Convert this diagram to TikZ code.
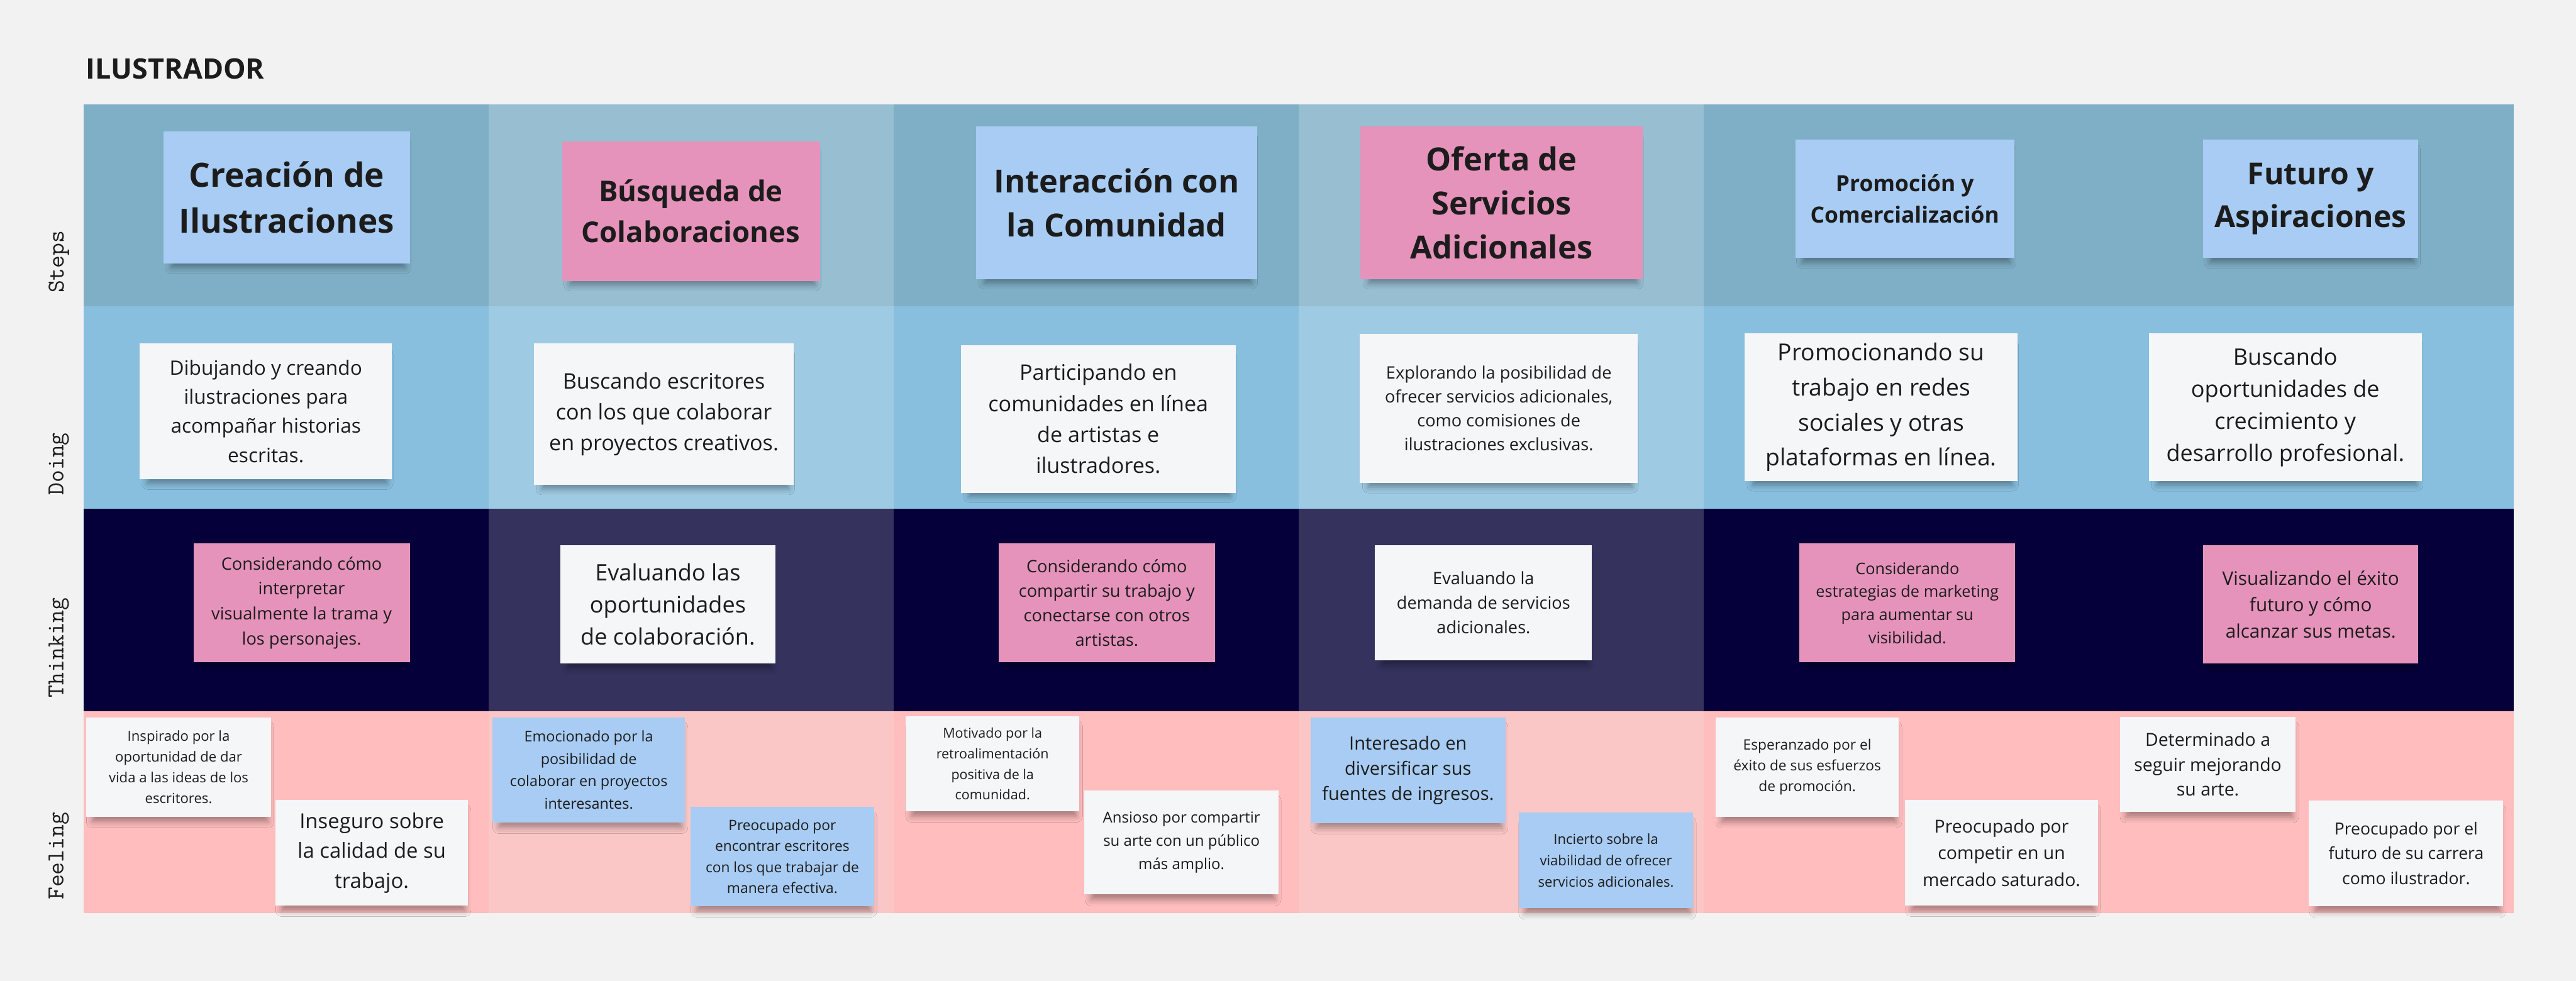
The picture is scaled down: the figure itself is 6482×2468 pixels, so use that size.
\documentclass[tikz,border=0pt]{standalone}
\usepackage{fontspec}
\setmainfont{Open Sans}
\usetikzlibrary{shadows.blur}
\definecolor{bg}{HTML}{F2F2F2}
\definecolor{stepsD}{HTML}{7FAFC6}
\definecolor{stepsL}{HTML}{97BED1}
\definecolor{doingD}{HTML}{89BFDE}
\definecolor{doingL}{HTML}{9FCAE3}
\definecolor{thinkD}{HTML}{05003A}
\definecolor{thinkL}{HTML}{35325E}
\definecolor{feelD}{HTML}{FFBDBE}
\definecolor{feelL}{HTML}{FBC6C6}
\definecolor{nblue}{HTML}{A8CCF3}
\definecolor{npink}{HTML}{E693BB}
\definecolor{nwhite}{HTML}{F5F6F8}
\definecolor{textc}{HTML}{1C1C1C}
\newcommand{\fsz}[2]{\pgfmathsetlengthmacro\fszA{#1*0.28453pt}\pgfmathsetlengthmacro\fszB{#2*0.28453pt}\fontsize{\fszA}{\fszB}\selectfont}
\newcommand{\sticky}[7]{%
  \node[notebox, #6, minimum width={(#4-#2)*0.01cm}, minimum height={(#5-#3)*0.01cm}] (#1) at ({(#2+#4)/2},{(#3+#5)/2}) {#7};}
\begin{document}
\begin{tikzpicture}[x=0.01cm,y=-0.01cm,
  notebox/.style={rectangle, inner sep=0pt, text=textc, align=center,
    blur shadow={shadow xshift=0.04cm, shadow yshift=-0.2cm, shadow scale=0.95, shadow opacity=35, shadow blur radius=0.16cm}},
  fs/.style 2 args={font={\fsz{#1}{#2}}},
  bfs/.style 2 args={font={\fsz{#1}{#2}\bfseries}},
  lbl/.style={rotate=90, anchor=west, inner sep=0pt, text=textc, font={\ttfamily\fsz{61}{70}}}]
\fill[bg] (0,0) rectangle (6482,2468);
\useasboundingbox (0,0) rectangle (6482,2468);
\foreach \xa/\xb/\s in {211/1229/D,1229/2248/L,2248/3268/D,3268/4287/L,4287/6326/D}{
  \fill[steps\s] (\xa,263) rectangle (\xb,771);
  \fill[doing\s] (\xa,771) rectangle (\xb,1280);
  \fill[think\s] (\xa,1280) rectangle (\xb,1789);
  \fill[feel\s] (\xa,1789) rectangle (\xb,2298);
}
\node[anchor=base west, inner sep=0pt, text=textc, font={\fsz{71}{90}\bfseries}] (title) at (216,199) {ILUSTRADOR};
\node[lbl] (lsteps) at (148,738) {Steps};
\node[lbl] (ldoing) at (148,1247) {Doing};
\node[lbl] (lthink) at (148,1756) {Thinking};
\node[lbl] (lfeel) at (148,2265) {Feeling};
% Steps
\sticky{s1}{412}{331}{1031}{663}{fill=nblue, bfs={84}{116}}{Creación de\\Ilustraciones}
\sticky{s2}{1414}{356}{2063}{707}{fill=npink, bfs={72}{103}}{Búsqueda de\\Colaboraciones}
\sticky{s3}{2456}{318}{3163}{703}{fill=nblue, bfs={80}{111}}{Interacción con\\la Comunidad}
\sticky{s4}{3423}{318}{4134}{703}{fill=npink, bfs={80}{111}}{Oferta de\\Servicios\\Adicionales}
\sticky{s5}{4518}{351}{5068}{649}{fill=nblue, bfs={56}{79}}{Promoción y\\Comercialización}
\sticky{s6}{5544}{351}{6085}{649}{fill=nblue, bfs={76}{107}}{Futuro y\\Aspiraciones}
% Doing
\sticky{d1}{352}{864}{986}{1206}{fill=nwhite, fs={50}{73}}{Dibujando y creando\\ilustraciones para\\acompañar historias\\escritas.}
\sticky{d2}{1344}{864}{1997}{1220}{fill=nwhite, fs={54}{78}}{Buscando escritores\\con los que colaborar\\en proyectos creativos.}
\sticky{d3}{2418}{868}{3109}{1240}{fill=nwhite, fs={54}{78}}{Participando en\\comunidades en línea\\de artistas e\\ilustradores.}
\sticky{d4}{3422}{840}{4121}{1216}{fill=nwhite, fs={43}{60}}{Explorando la posibilidad de\\ofrecer servicios adicionales,\\como comisiones de\\ilustraciones exclusivas.}
\sticky{d5}{4390}{839}{5077}{1211}{fill=nwhite, fs={59}{88}}{Promocionando su\\trabajo en redes\\sociales y otras\\plataformas en línea.}
\sticky{d6}{5407}{839}{6094}{1211}{fill=nwhite, fs={57}{81}}{Buscando\\oportunidades de\\crecimiento y\\desarrollo profesional.}
% Thinking
\sticky{t1}{487}{1368}{1031}{1666}{fill=npink, fs={43}{63}}{Considerando cómo\\interpretar\\visualmente la trama y\\los personajes.}
\sticky{t2}{1410}{1372}{1951}{1670}{fill=nwhite, fs={57}{81}}{Evaluando las\\oportunidades\\de colaboración.}
\sticky{t3}{2513}{1368}{3057}{1666}{fill=npink, fs={43}{62}}{Considerando cómo\\compartir su trabajo y\\conectarse con otros\\artistas.}
\sticky{t4}{3460}{1372}{4006}{1662}{fill=nwhite, fs={43}{62}}{Evaluando la\\demanda de servicios\\adicionales.}
\sticky{t5}{4528}{1368}{5071}{1666}{fill=npink, fs={40}{58}}{Considerando\\estrategias de marketing\\para aumentar su\\visibilidad.}
\sticky{t6}{5544}{1372}{6085}{1670}{fill=npink, fs={47}{66}}{Visualizando el éxito\\futuro y cómo\\alcanzar sus metas.}
% Feeling
\sticky{f1}{217}{1805}{682}{2055}{fill=nwhite, fs={35}{52}}{Inspirado por la\\oportunidad de dar\\vida a las ideas de los\\escritores.}
\sticky{f2}{693}{2013}{1178}{2279}{fill=nwhite, fs={52}{75}}{Inseguro sobre\\la calidad de su\\trabajo.}
\sticky{f3}{1239}{1805}{1724}{2070}{fill=nblue, fs={37}{56}}{Emocionado por la\\posibilidad de\\colaborar en proyectos\\interesantes.}
\sticky{f4}{1738}{2031}{2199}{2280}{fill=nblue, fs={36}{53}}{Preocupado por\\encontrar escritores\\con los que trabajar de\\manera efectiva.}
\sticky{f5}{2279}{1803}{2716}{2041}{fill=nwhite, fs={34}{52}}{Motivado por la\\retroalimentación\\positiva de la\\comunidad.}
\sticky{f6}{2729}{1989}{3217}{2251}{fill=nwhite, fs={38}{58}}{Ansioso por compartir\\su arte con un público\\más amplio.}
\sticky{f7}{3298}{1805}{3788}{2071}{fill=nblue, fs={46}{63}}{Interesado en\\diversificar sus\\fuentes de ingresos.}
\sticky{f8}{3822}{2045}{4260}{2285}{fill=nblue, fs={35}{54}}{Incierto sobre la\\viabilidad de ofrecer\\servicios adicionales.}
\sticky{f9}{4317}{1805}{4778}{2056}{fill=nwhite, fs={36}{52}}{Esperanzado por el\\éxito de sus esfuerzos\\de promoción.}
\sticky{f10}{4794}{2013}{5279}{2279}{fill=nwhite, fs={45}{67}}{Preocupado por\\competir en un\\mercado saturado.}
\sticky{f11}{5335}{1804}{5776}{2043}{fill=nwhite, fs={45}{63}}{Determinado a\\seguir mejorando\\su arte.}
\sticky{f12}{5810}{2014}{6299}{2281}{fill=nwhite, fs={42}{63}}{Preocupado por el\\futuro de su carrera\\como ilustrador.}
\end{tikzpicture}
\end{document}
